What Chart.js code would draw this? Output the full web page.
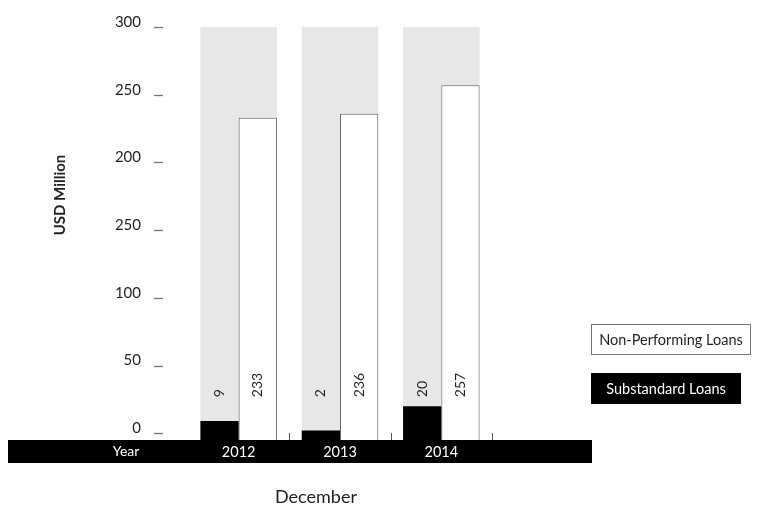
<!DOCTYPE html>
<html>
<head>
<meta charset="utf-8">
<script src="https://cdn.jsdelivr.net/npm/chart.js@4/dist/chart.umd.min.js"></script>
<style>
  html, body { margin: 0; padding: 0; background: #fff; }
  #wrap { position: relative; width: 783px; height: 508px; }
</style>
</head>
<body>
<div id="wrap"><canvas id="chart" width="783" height="508"></canvas></div>
<script>
/* ---- data ---- */
const years = ['2012', '2013', '2014'];
const substandard = [9, 2, 20];
const nonPerforming = [233, 236, 257];
const columnTop = [300, 300, 300];
const tickValues = [0, 50, 100, 150, 200, 250, 300];
const tickLabels = ['0', '50', '100', '250', '200', '250', '300']; // as printed
const yTitle = 'USD Million';
const xTitle = 'December';
const yearCaption = 'Year';

const FONT = 'Lato, "Open Sans", sans-serif';
const INK = '#231f20';

/* ---- extras: band, marks, value labels, legend, titles ---- */
const extras = {
  id: 'extras',
  beforeDraw(chart) {
    const ctx = chart.ctx, area = chart.chartArea;
    ctx.save();
    ctx.fillStyle = '#000';
    ctx.fillRect(8, area.bottom, 584, 23);
    ctx.fillStyle = '#fff';
    ctx.font = '14px ' + FONT;
    ctx.textAlign = 'center';
    ctx.textBaseline = 'middle';
    ctx.fillText(yearCaption, 126, area.bottom + 11.5);
    ctx.restore();
  },
  afterDatasetsDraw(chart) {
    const ctx = chart.ctx, area = chart.chartArea;
    const y = chart.scales.y, x = chart.scales.x;
    ctx.save();

    // y tick marks ("_")
    ctx.strokeStyle = '#777';
    ctx.lineWidth = 1.3;
    tickValues.forEach(v => {
      const py = Math.round(y.getPixelForValue(v)) + 0.5;
      ctx.beginPath(); ctx.moveTo(154, py); ctx.lineTo(163, py); ctx.stroke();
    });

    // small vertical marks at category boundaries
    const cw = x.width / years.length;
    ctx.strokeStyle = '#555';
    ctx.lineWidth = 1;
    years.forEach((_, i) => {
      const px = Math.round(x.getPixelForValue(i) + cw / 2) + 0.5;
      ctx.beginPath(); ctx.moveTo(px, area.bottom - 7); ctx.lineTo(px, area.bottom); ctx.stroke();
    });

    // rotated value labels
    ctx.fillStyle = INK;
    ctx.font = '14px ' + FONT;
    ctx.textAlign = 'left';
    ctx.textBaseline = 'middle';
    const base = y.getPixelForValue(0) - 36;
    [0, 1].forEach(di => {
      const meta = chart.getDatasetMeta(di);
      meta.data.forEach((bar, i) => {
        ctx.save();
        ctx.translate(bar.x, base);
        ctx.rotate(-Math.PI / 2);
        ctx.fillText(String(chart.data.datasets[di].data[i]), 0, 0);
        ctx.restore();
      });
    });

    // y title
    ctx.save();
    ctx.translate(60, 195);
    ctx.rotate(-Math.PI / 2);
    ctx.font = 'bold 15px ' + FONT;
    ctx.textAlign = 'center';
    ctx.fillText(yTitle, 0, 0);
    ctx.restore();

    // x title
    ctx.font = '18px ' + FONT;
    ctx.textAlign = 'center';
    ctx.fillText(xTitle, 316, 497);

    // legend
    const npl = chart.data.datasets[1], sub = chart.data.datasets[0];
    ctx.font = '14.5px ' + FONT;
    ctx.fillStyle = '#fff';
    ctx.fillRect(591, 324, 160, 31);
    ctx.strokeStyle = '#777';
    ctx.strokeRect(591.5, 324.5, 159, 30);
    ctx.fillStyle = INK;
    ctx.fillText(npl.label, 671, 340);
    ctx.fillStyle = '#000';
    ctx.fillRect(591, 373, 150, 31);
    ctx.fillStyle = '#fff';
    ctx.fillText(sub.label, 666, 389);

    ctx.restore();
  }
};

new Chart(document.getElementById('chart'), {
  type: 'bar',
  data: {
    labels: years,
    datasets: [
      { label: 'Substandard Loans', data: substandard, backgroundColor: '#000',
        borderWidth: 0, base: -5, order: 0,
        categoryPercentage: 0.755, barPercentage: 1 },
      { label: 'Non-Performing Loans', data: nonPerforming, backgroundColor: '#fff',
        borderColor: '#666', borderWidth: 1, base: -5, order: 0,
        categoryPercentage: 0.755, barPercentage: 1 },
      { label: 'column', data: columnTop, backgroundColor: '#e6e7e8',
        borderWidth: 0, base: -5, order: 2, grouped: false,
        categoryPercentage: 0.755, barPercentage: 1 }
    ]
  },
  options: {
    responsive: false,
    animation: false,
    layout: { padding: { left: 0, right: 291, top: 27, bottom: 0 } },
    plugins: { legend: { display: false }, tooltip: { enabled: false } },
    scales: {
      x: {
        grid: { display: false }, border: { display: false },
        ticks: { color: '#fff', font: { family: FONT, size: 14.5 }, padding: -4 },
        afterFit(s) { s.height = 68; }
      },
      y: {
        min: -5, max: 300,
        grid: { display: false }, border: { display: false },
        afterBuildTicks(s) { s.ticks = tickValues.map(v => ({ value: v })); },
        ticks: {
          color: INK, font: { family: FONT, size: 15 }, padding: 39, labelOffset: -5,
          callback: (v, i) => tickLabels[i]
        },
        afterFit(s) { s.width = 188; s.paddingTop = 0; s.paddingBottom = 0; }
      }
    }
  },
  plugins: [extras]
});
</script>
</body>
</html>
